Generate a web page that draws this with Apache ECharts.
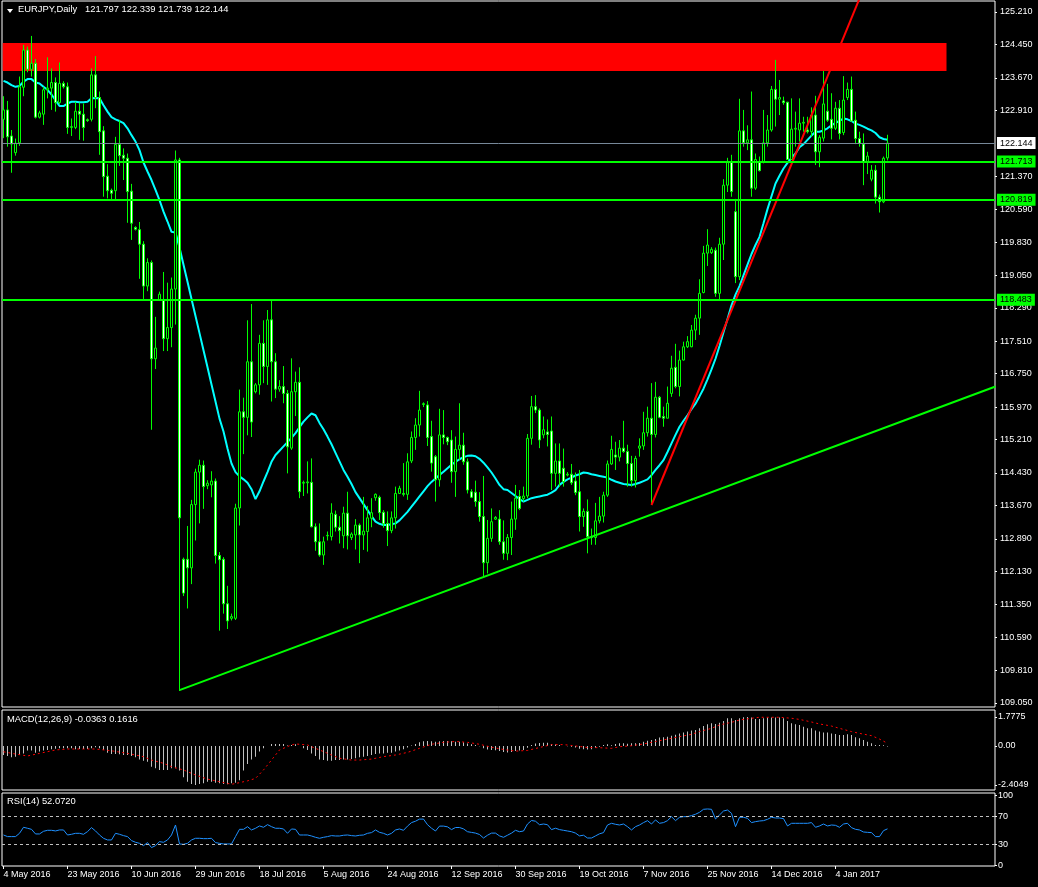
<!DOCTYPE html>
<html><head><meta charset="utf-8">
<script src="https://cdn.jsdelivr.net/npm/echarts/dist/echarts.min.js"></script>
<style>html,body{margin:0;padding:0;background:#000;}#c{width:1038px;height:887px;}</style>
</head><body><div id="c"></div>
<script>
const tickLabels = ['4 May 2016','23 May 2016','10 Jun 2016','29 Jun 2016','18 Jul 2016','5 Aug 2016','24 Aug 2016','12 Sep 2016','30 Sep 2016','19 Oct 2016','7 Nov 2016','25 Nov 2016','14 Dec 2016','4 Jan 2017'];
const priceTicks = [125.210,124.450,123.670,122.910,121.370,120.590,119.830,119.050,118.290,117.510,116.750,115.970,115.210,114.430,113.670,112.890,112.130,111.350,110.590,109.810,109.050];
const macdTicks = [1.7775, 0, -2.4049];
const rsiTicks = [100, 70, 30, 0];

const open = [
122.70,122.92,122.31,121.92,122.15,123.45,124.32,123.87,124.01,122.75,
122.82,123.39,123.43,123.56,123.09,123.54,123.46,122.51,122.51,122.89,
122.82,122.69,122.70,123.74,123.21,122.43,121.37,121.04,121.03,122.11,
121.86,121.79,121.02,120.17,120.12,119.78,118.80,119.35,117.10,118.47,
118.47,117.57,117.83,118.73,121.75,112.41,112.41,112.21,113.69,114.45,
114.61,114.13,114.15,114.24,112.50,112.41,111.37,111.03,111.03,113.61,
115.86,115.73,117.03,116.33,116.49,117.46,116.92,118.01,117.03,116.39,
116.45,116.29,115.01,116.33,116.55,114.19,114.20,114.21,113.17,112.82,
112.51,112.96,112.94,113.46,113.16,112.96,113.49,112.92,112.98,113.21,
112.98,113.06,113.37,113.85,113.86,113.51,113.25,113.08,113.38,113.95,
113.95,113.93,114.71,115.26,115.55,116.03,116.02,115.28,114.81,114.27,
115.32,115.26,115.20,114.46,114.98,115.08,114.69,113.99,113.98,113.76,
113.41,112.33,112.90,113.35,113.35,112.82,112.55,112.92,113.35,113.88,
113.83,113.89,115.24,115.98,115.90,115.32,115.39,115.41,114.42,114.71,
114.54,114.38,114.40,114.24,113.99,113.41,113.53,112.94,112.92,113.31,
113.42,113.91,114.64,114.85,114.80,115.01,114.93,114.65,114.25,115.01,
115.06,115.37,115.71,115.33,116.20,115.75,115.71,116.29,116.90,116.45,
117.07,117.38,117.38,117.77,118.05,118.65,119.57,119.58,119.64,118.63,
119.78,121.16,121.69,120.54,119.02,122.43,122.15,122.22,121.09,121.71,
121.71,122.15,122.45,123.40,123.17,123.13,123.10,121.76,122.47,122.45,
122.61,122.45,122.41,122.80,121.94,122.26,122.89,122.70,122.49,122.96,
122.39,123.21,123.40,122.68,122.25,122.12,121.71,121.30,121.51,120.88,
120.77,121.797];
const high = [
123.24,123.13,122.45,122.25,123.70,124.44,124.40,124.65,124.11,122.90,
123.46,124.15,123.89,123.68,124.03,123.59,123.56,122.72,123.11,123.09,
123.07,122.72,123.89,124.18,123.35,122.54,121.65,121.08,122.29,122.68,
122.02,121.90,121.19,120.20,120.30,119.85,119.45,119.40,118.08,118.67,
119.13,118.88,119.00,121.97,121.80,112.45,113.19,113.80,114.53,114.74,
114.72,114.26,114.47,114.30,112.58,112.46,111.79,111.14,113.71,116.38,
116.19,118.00,118.38,116.53,117.66,118.00,118.24,118.45,117.23,116.60,
116.93,116.37,117.11,116.80,116.90,114.25,114.70,114.77,113.25,113.25,
112.94,113.06,113.72,113.55,113.42,113.64,113.99,113.04,113.35,113.25,
113.87,113.66,113.84,113.95,113.90,113.56,113.53,113.53,114.11,114.13,
114.66,114.89,115.40,115.71,116.35,116.08,116.11,115.65,114.85,115.93,
115.90,115.28,115.43,115.28,116.06,115.37,114.77,114.05,114.25,113.98,
114.36,113.33,113.60,113.42,113.56,113.32,113.00,113.76,114.15,114.03,
114.11,115.34,116.23,116.25,115.94,115.75,115.68,115.75,115.12,115.12,
115.00,114.45,114.64,114.44,114.50,113.60,113.81,113.13,113.73,113.87,
113.99,114.72,115.30,115.16,115.20,115.65,115.09,114.83,114.83,115.24,
115.86,115.98,116.53,116.56,116.23,115.98,116.45,117.17,117.45,117.29,
117.50,117.63,117.89,118.13,118.96,119.74,120.13,119.71,119.70,119.93,
121.30,121.80,121.87,120.84,123.18,122.92,122.56,123.35,121.90,121.83,
122.92,122.80,123.48,124.09,123.62,123.23,123.11,123.19,122.88,123.19,
122.76,122.76,122.98,123.25,122.33,123.83,123.53,123.31,123.11,123.15,
123.71,123.56,123.70,122.88,122.41,122.37,121.94,121.63,121.63,120.94,
121.83,122.339];
const low = [
122.26,122.06,121.45,121.85,122.08,123.24,123.80,123.70,122.72,122.72,
122.57,123.19,122.92,122.88,123.06,123.42,122.36,122.31,122.47,122.22,
122.20,122.64,122.65,122.96,121.87,120.89,120.85,120.83,120.83,121.61,
121.28,120.28,119.88,120.10,118.97,118.50,118.68,115.44,116.86,118.45,
117.28,117.28,117.37,117.90,109.33,111.55,111.26,111.83,112.85,113.25,
113.59,114.05,113.86,112.31,110.74,111.14,110.78,110.98,110.99,113.20,
114.87,115.31,115.27,116.29,116.26,116.53,116.49,116.10,116.18,116.33,
116.06,114.42,114.97,115.76,113.84,113.89,113.95,113.16,112.61,112.47,
112.28,112.85,112.85,113.06,112.78,112.67,112.64,112.86,112.64,112.32,
112.63,112.59,113.16,113.78,113.33,113.15,112.72,113.02,113.13,113.94,
113.88,113.80,114.66,114.97,115.28,115.97,115.06,114.46,113.76,114.11,
115.10,115.08,114.20,113.87,114.73,114.62,113.95,113.84,113.64,113.29,
112.00,112.08,112.82,113.33,112.75,112.40,112.39,112.51,113.10,113.56,
113.76,113.84,115.09,115.83,115.01,115.24,115.05,114.03,114.11,114.11,
114.11,114.35,114.15,113.91,113.06,113.17,112.55,112.75,112.75,113.25,
113.27,113.87,114.62,114.50,114.70,114.90,114.11,114.11,114.09,114.81,
114.97,115.28,113.68,115.26,115.71,115.51,115.71,116.21,116.41,116.22,
117.06,117.35,117.37,117.54,117.66,118.63,119.27,119.55,118.55,118.49,
119.41,121.00,120.89,118.87,118.94,122.06,121.98,120.89,121.05,121.48,
121.67,122.06,122.41,122.53,122.80,123.04,121.75,121.75,122.06,122.18,
122.41,122.37,122.29,121.63,121.58,122.18,122.64,122.23,122.45,122.23,
122.33,123.15,122.65,122.12,122.06,121.16,121.42,121.25,120.73,120.52,
120.74,121.739];
const close = [
122.92,122.29,122.12,122.14,123.46,124.32,123.87,124.01,122.75,122.85,
123.39,123.43,123.56,123.09,123.54,123.46,122.51,122.53,122.89,122.82,
122.51,122.67,123.74,123.21,122.41,121.36,121.03,120.97,122.11,121.85,
121.79,121.01,120.27,120.13,119.78,118.80,119.35,117.10,117.35,118.61,
117.57,117.83,118.73,121.75,113.38,111.62,112.21,113.69,114.45,114.61,
114.11,114.19,114.24,112.50,112.40,111.37,110.97,111.07,113.61,115.86,
115.73,117.03,115.62,116.49,117.46,116.92,118.01,117.03,116.39,116.45,
116.29,115.04,116.33,116.55,113.99,114.21,114.22,113.17,112.82,112.51,
112.82,112.97,113.49,113.16,113.08,113.49,112.96,113.00,113.21,112.98,
113.07,113.38,113.50,113.93,113.50,113.24,113.08,113.38,113.95,114.07,
113.93,114.69,115.26,115.55,115.90,116.05,115.26,114.66,114.27,115.32,
115.26,115.16,114.46,114.98,115.08,114.69,114.03,113.86,113.76,113.41,
112.33,112.90,113.29,113.39,112.82,112.55,112.92,113.35,113.84,113.60,
113.89,115.24,115.98,115.90,115.20,115.44,115.33,114.42,114.71,114.42,
114.23,114.40,114.20,113.97,113.41,113.53,112.94,112.92,113.31,113.42,
113.91,114.64,114.98,114.80,115.01,114.93,114.65,114.25,114.77,115.06,
115.37,115.71,115.33,116.20,115.73,115.71,116.06,116.88,116.45,117.07,
117.38,117.50,117.77,118.05,118.63,119.57,119.76,119.66,118.63,119.78,
121.16,121.69,121.01,119.02,122.43,122.15,122.22,121.09,121.76,121.50,
122.15,122.45,123.40,123.17,123.21,123.09,121.76,122.47,122.49,122.61,
122.63,122.41,122.80,121.94,122.28,123.06,122.68,122.49,122.96,122.37,
123.15,123.40,122.66,122.25,122.14,121.71,121.84,121.51,120.88,120.77,
121.79,122.144];
const ma = [
123.60,123.56,123.50,123.46,123.48,123.58,123.64,123.64,123.56,123.54,
123.46,123.39,123.28,123.15,123.01,123.01,123.07,123.11,123.11,123.10,
123.10,123.11,123.19,123.20,123.19,123.03,122.88,122.75,122.70,122.66,
122.61,122.49,122.33,122.18,121.98,121.69,121.48,121.28,121.05,120.81,
120.54,120.31,120.07,120.05,119.70,119.30,118.90,118.50,118.10,117.70,
117.30,116.90,116.50,116.10,115.70,115.40,115.00,114.65,114.45,114.35,
114.28,114.20,114.05,113.82,114.00,114.23,114.45,114.69,114.85,114.95,
115.05,115.15,115.25,115.36,115.50,115.63,115.73,115.82,115.78,115.60,
115.45,115.28,115.10,114.90,114.70,114.50,114.34,114.17,113.98,113.84,
113.70,113.56,113.42,113.29,113.24,113.21,113.21,113.23,113.25,113.32,
113.42,113.52,113.64,113.76,113.88,114.00,114.12,114.22,114.30,114.38,
114.46,114.54,114.62,114.69,114.75,114.80,114.83,114.84,114.82,114.76,
114.67,114.56,114.44,114.30,114.15,114.05,114.03,113.96,113.89,113.82,
113.76,113.80,113.84,113.86,113.88,113.90,113.92,113.97,114.03,114.15,
114.22,114.28,114.32,114.37,114.40,114.44,114.43,114.40,114.38,114.36,
114.34,114.32,114.27,114.23,114.20,114.17,114.16,114.15,114.17,114.20,
114.24,114.28,114.38,114.50,114.61,114.73,114.92,115.12,115.32,115.51,
115.65,115.78,115.92,116.05,116.22,116.40,116.62,116.85,117.10,117.40,
117.72,118.03,118.35,118.60,118.80,119.05,119.30,119.55,119.76,119.95,
120.27,120.60,120.90,121.20,121.38,121.55,121.68,121.80,121.90,122.05,
122.12,122.22,122.32,122.41,122.41,122.44,122.49,122.56,122.62,122.66,
122.72,122.70,122.66,122.60,122.57,122.53,122.48,122.44,122.38,122.28,
122.24,122.22];
const macd = [
-0.56,-0.62,-0.70,-0.66,-0.56,-0.46,-0.29,-0.29,-0.42,-0.35,
-0.29,-0.25,-0.21,-0.17,-0.15,-0.15,-0.15,-0.15,-0.21,-0.19,
-0.19,-0.19,-0.15,-0.09,-0.15,-0.25,-0.42,-0.50,-0.50,-0.52,
-0.56,-0.56,-0.62,-0.70,-0.83,-0.91,-0.97,-1.28,-1.38,-1.48,
-1.48,-1.48,-1.38,-1.38,-1.52,-1.93,-2.20,-2.34,-2.4049,-2.34,
-2.30,-2.20,-2.20,-2.26,-2.30,-2.34,-2.36,-2.30,-2.26,-2.11,
-1.52,-1.11,-0.83,-0.66,-0.35,-0.15,-0.01,0.12,0.12,0.12,
0.12,0.03,0.06,0.10,-0.01,-0.15,-0.25,-0.46,-0.62,-0.83,
-0.87,-0.91,-0.91,-0.87,-0.87,-0.83,-0.83,-0.81,-0.76,-0.70,
-0.66,-0.62,-0.56,-0.50,-0.46,-0.46,-0.42,-0.42,-0.35,-0.29,
-0.20,-0.10,0.02,0.12,0.22,0.28,0.30,0.28,0.25,0.28,
0.30,0.30,0.28,0.25,0.25,0.22,0.15,0.10,0.05,-0.02,
-0.15,-0.22,-0.25,-0.27,-0.32,-0.38,-0.40,-0.38,-0.32,-0.28,
-0.25,-0.12,0.05,0.15,0.18,0.20,0.20,0.12,0.08,0.05,
0.00,-0.02,-0.05,-0.10,-0.18,-0.20,-0.22,-0.20,-0.12,-0.05,
0.06,0.10,0.04,0.12,0.16,0.16,0.14,0.16,0.16,0.18,
0.26,0.32,0.36,0.42,0.51,0.53,0.57,0.63,0.69,0.77,
0.83,0.88,0.94,0.98,1.08,1.22,1.33,1.39,1.35,1.43,
1.53,1.70,1.70,1.59,1.70,1.76,1.7775,1.74,1.65,1.65,
1.70,1.74,1.74,1.74,1.74,1.70,1.53,1.39,1.33,1.29,
1.18,1.08,1.08,0.94,0.88,0.83,0.83,0.77,0.73,0.67,
0.67,0.71,0.67,0.53,0.47,0.36,0.26,0.16,0.06,0.05,
0.04,-0.0363];
const signalPts = [
[0,-0.36],[3,-0.50],[6,-0.62],[9,-0.46],[13,-0.25],[16,-0.19],[20,-0.19],[23,-0.19],[27,-0.30],[31,-0.46],
[35,-0.66],[37,-0.87],[40,-1.07],[42,-1.28],[45,-1.48],[48,-1.79],[51,-2.04],[54,-2.20],[57,-2.36],[59,-2.26],
[61,-2.15],[63,-2.00],[65,-1.48],[67,-0.87],[69,-0.25],[72,0.06],[73,0.12],[76,0.06],[78,-0.15],[80,-0.35],
[82,-0.56],[84,-0.76],[87,-0.87],[89,-0.87],[92,-0.81],[95,-0.66],[98,-0.56],[101,-0.40],[104,-0.15],[107,0.10],
[110,0.22],[113,0.27],[116,0.22],[119,0.10],[122,-0.08],[125,-0.22],[128,-0.32],[131,-0.28],[134,-0.10],[137,0.08],
[140,0.08],[143,0.00],[146,-0.10],[149,-0.11],[152,-0.15],[154,-0.05],[157,0.01],[160,0.12],[163,0.27],[166,0.42],
[169,0.57],[172,0.71],[174,0.88],[177,1.08],[179,1.29],[182,1.45],[184,1.59],[187,1.70],[189,1.76],[192,1.76],
[194,1.76],[197,1.70],[199,1.63],[202,1.47],[204,1.35],[207,1.22],[209,1.08],[212,0.88],[214,0.77],[217,0.63],
[219,0.42],[221,0.1616]];
const rsi = [
43.3,41.0,41.0,41.0,45.7,54.3,52.9,51.4,44.8,44.8,
48.6,50.0,50.0,49.1,50.5,50.5,43.3,44.3,45.7,45.7,
44.3,48.1,53.8,49.1,43.3,38.6,36.2,36.2,45.7,44.3,
42.4,41.0,35.3,32.9,31.4,28.1,32.4,25.3,28.1,33.8,
32.9,36.2,43.3,57.6,30.5,30.0,31.4,36.2,38.6,38.6,
38.1,38.1,38.6,32.4,31.4,30.5,30.5,30.5,41.0,51.4,
51.4,55.2,50.5,52.9,56.2,54.3,58.1,55.2,52.9,52.9,
51.9,45.7,51.9,51.4,43.3,43.3,43.3,41.9,40.0,38.6,
40.0,41.0,42.4,41.9,41.9,42.9,43.3,42.4,41.9,42.9,
43.3,45.7,46.7,50.5,47.1,45.7,43.3,45.7,50.5,51.9,
50,56,61,63,66,66,58,53,49,56,
56,55,51,54,54,52,48,47,46,44,
39,43,46,46,42,40,43,46,50,48,
49,59,64,63,58,59,58,51,53,51,
50,49,48,46,42,43,39,39,42,45,
46.7,57.6,60.0,58.6,57.6,59.0,55.2,50.5,55.2,57.6,
61.0,63.8,59.0,64.8,60.0,61.0,63.8,69.5,63.8,68.6,
69.5,69.5,71.0,72.9,75.7,80.0,80.5,80.0,66.2,71.9,
77.6,79.0,74.3,55.2,68.6,68.6,67.1,61.0,62.4,63.3,
63.8,65.7,68.6,67.6,67.6,66.7,56.2,60.0,60.0,60.0,
60.0,60.0,61.0,54.3,56.2,59.0,56.2,57.6,57.1,54.3,
59.0,60.0,53.8,51.4,50.5,47.6,47.1,46.7,41.0,41.0,
49.5,52.072];
const levels = [121.713, 120.819, 118.483];
const lastPrice = 122.144;
const zone = {x0: -0.2, x1: 235.75, bottom: 123.83, top: 124.485};
const supportLine = [[44, 109.35], [248, 116.45]];
const redLine = [[162, 113.68], [216, 125.98]];
const rsiLevels = [70, 30];

const FONT = '"Liberation Sans", Arial, sans-serif';
const N = open.length;
const XMIN = -0.375, XMAX = 247.875;
const tickPos = tickLabels.map((_, k) => k * 16);

function xa(gi, withLabels) {
  return {
    type: 'value', gridIndex: gi, min: XMIN, max: XMAX,
    axisLine: {show: false, onZero: false}, splitLine: {show: false},
    axisTick: withLabels ? {show: true, customValues: tickPos, length: 3, lineStyle: {color: '#fff'}} : {show: false},
    axisLabel: withLabels ? {show: true, customValues: tickPos, formatter: v => tickLabels[Math.round(v / 16)],
      color: '#fff', fontSize: 9, fontFamily: FONT, align: 'left', margin: 4} : {show: false}
  };
}
function ya(gi, min, max, ticks, fmt, margin) {
  return {
    type: 'value', gridIndex: gi, position: 'right', min: min, max: max,
    axisLine: {show: false, onZero: false}, splitLine: {show: false},
    axisTick: {show: true, customValues: ticks, length: 2, lineStyle: {color: '#fff'}},
    axisLabel: {show: true, customValues: ticks, formatter: fmt, color: '#fff', fontSize: 9, fontFamily: FONT, margin: margin}
  };
}
const lvlLabel = (bg) => ({show: true, position: 'end', distance: 2, color: '#000', backgroundColor: bg,
  fontSize: 9, fontFamily: FONT, padding: [2, 3, 1, 3]});
const TFONT = '9.4px ' + FONT;

const chart = echarts.init(document.getElementById('c'), null, {renderer: 'canvas'});
chart.setOption({
  backgroundColor: '#000',
  animation: false,
  grid: [
    {left: 2, top: 1, width: 993, height: 706, show: true, borderColor: '#fff', borderWidth: 1},
    {left: 2, top: 710, width: 993, height: 80, show: true, borderColor: '#fff', borderWidth: 1},
    {left: 2, top: 793, width: 993, height: 73, show: true, borderColor: '#fff', borderWidth: 1}
  ],
  xAxis: [xa(0, false), xa(1, false), xa(2, true)],
  yAxis: [
    ya(0, 108.956, 125.467, priceTicks, v => v.toFixed(3), 5),
    ya(1, -2.712, 2.208, macdTicks, v => (v === 0 ? '0.00' : String(v)), 3),
    ya(2, -1, 103.3, rsiTicks, v => String(v), 3)
  ],
  graphic: [
    {type: 'polygon', shape: {points: [[7, 9], [13, 9], [10, 13]]}, style: {fill: '#fff'}},
    {type: 'text', left: 18, top: 5, style: {text: 'EURJPY,Daily   ' + [open[N-1], high[N-1], low[N-1], close[N-1]].map(v => v.toFixed(3)).join(' '), fill: '#fff', font: TFONT}},
    {type: 'text', left: 7, top: 715, style: {text: 'MACD(12,26,9) ' + macd[N-1].toFixed(4) + ' ' + signalPts[signalPts.length-1][1].toFixed(4), fill: '#fff', font: TFONT}},
    {type: 'text', left: 7, top: 797, style: {text: 'RSI(14) ' + rsi[N-1].toFixed(4), fill: '#fff', font: TFONT}}
  ],
  series: [
    {
      type: 'line', xAxisIndex: 0, yAxisIndex: 0, data: ma.map((v, i) => [i, v]), showSymbol: false, silent: true,
      lineStyle: {color: '#00ffff', width: 2}, z: 2
    },
    {
      type: 'candlestick', xAxisIndex: 0, yAxisIndex: 0, silent: true, z: 3,
      data: open.map((o, i) => [i, o, close[i], low[i], high[i]]),
      encode: {x: 0, y: [1, 2, 3, 4]},
      barWidth: 2,
      itemStyle: {color: '#000', color0: '#fff', borderColor: '#00ff00', borderColor0: '#00ff00', borderWidth: 1},
      markArea: {silent: true, itemStyle: {color: '#ff0000', opacity: 1},
        data: [[{xAxis: zone.x0, yAxis: zone.top}, {xAxis: zone.x1, yAxis: zone.bottom}]]},
      markLine: {silent: true, symbol: ['none', 'none'], precision: 3, animation: false,
        data: levels.map(v => ({yAxis: v, lineStyle: {color: '#00ff00', width: 2, type: 'solid'}, label: Object.assign(lvlLabel('#00ff00'), {formatter: v.toFixed(3)})}))
          .concat([{yAxis: lastPrice, lineStyle: {color: '#778899', width: 1, type: 'solid'}, label: Object.assign(lvlLabel('#ffffff'), {formatter: lastPrice.toFixed(3)})}])}
    },
    {type: 'line', xAxisIndex: 0, yAxisIndex: 0, data: supportLine, showSymbol: false, silent: true, lineStyle: {color: '#00ff00', width: 2}, z: 4},
    {type: 'line', xAxisIndex: 0, yAxisIndex: 0, data: redLine, showSymbol: false, silent: true, clip: true, lineStyle: {color: '#ff0000', width: 2}, z: 4},
    {type: 'bar', xAxisIndex: 1, yAxisIndex: 1, data: macd.map((v, i) => [i, v]), barWidth: 1, silent: true, itemStyle: {color: '#c0c0c0'}},
    {type: 'line', xAxisIndex: 1, yAxisIndex: 1, data: signalPts, showSymbol: false, silent: true, lineStyle: {color: '#ff0000', width: 1, type: [2, 3]}, z: 4},
    {
      type: 'line', xAxisIndex: 2, yAxisIndex: 2, data: rsi.map((v, i) => [i, v]), showSymbol: false, silent: true,
      lineStyle: {color: '#1e90ff', width: 1},
      markLine: {silent: true, symbol: ['none', 'none'], label: {show: false}, lineStyle: {color: '#c0c0c0', type: [3, 3], width: 1},
        data: rsiLevels.map(v => ({yAxis: v}))}
    }
  ]
});
</script>
</body></html>
